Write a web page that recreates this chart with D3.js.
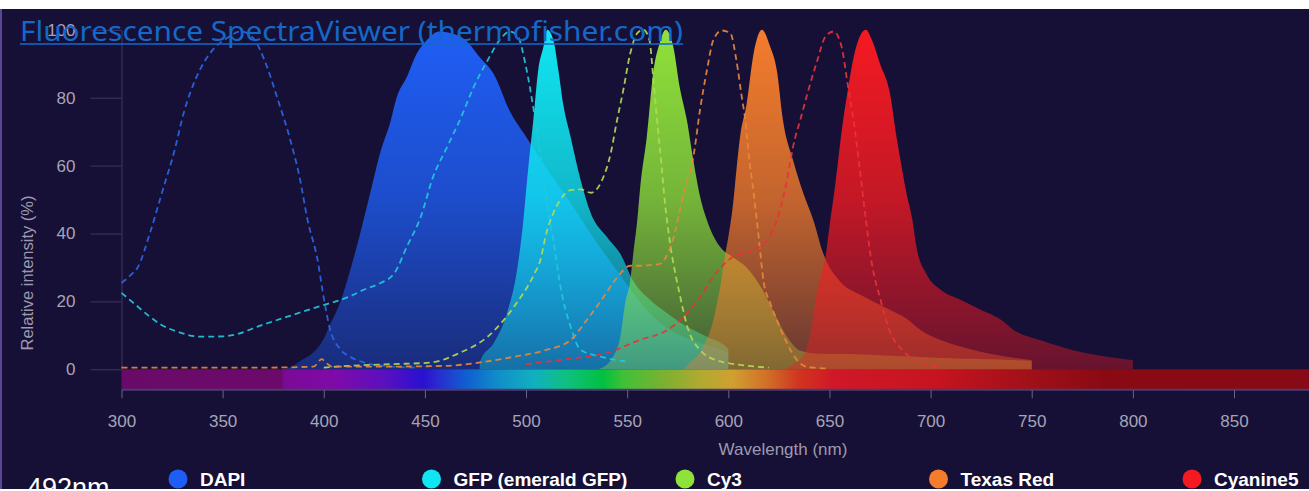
<!DOCTYPE html>
<html>
<head>
<meta charset="utf-8">
<script src="https://cdn.jsdelivr.net/npm/d3@7"></script>
<style>
body { margin: 0; background: #ffffff; overflow: hidden; }
text { font-family: "Liberation Sans", Arial, sans-serif; }
</style>
</head>
<body>
<script>
// ---- data ----
var dyes = ["DAPI", "GFP (emerald GFP)", "Cy3", "Texas Red", "Cyanine5"];
var xTicks = [300, 350, 400, 450, 500, 550, 600, 650, 700, 750, 800, 850];
var yTicks = [0, 20, 40, 60, 80, 100];
var selectedLine = "492nm";

// [wavelength nm, relative intensity %]
var dapiEx = [[300,25.4],[305,28],[308,30],[314,40],[320,52],[326,64],[331,76],[337,86],[345,94],[352,97.5],[359,99.5],[365,97.6],[372,89],[377,80],[383,68.5],[388,56.7],[392,44],[397,32],[400,21],[403,12],[408,6],[413,3.7],[420,2],[430,1],[445,0.5]];
var dapiEm = [[381,0],[386,1.5],[390,3],[395,5],[400,9],[403,13],[408,19.5],[413,29],[418,40],[423,52],[428,64],[433,73],[436,80],[441,86],[446,93],[451,97],[457,99.5],[463,99],[470,97],[477,92],[484,87],[492,76],[500,68.5],[507,62],[515,55],[523,48],[533,39],[545,29],[553,22.5],[561,16.6],[570,12],[580,9],[590,7],[600,5]];
var gfpEx = [[300,22.5],[307,19],[314,15.5],[320,13],[328,11],[339,9.6],[350,9.7],[358,10.5],[367,12.5],[382,15.5],[397,18.4],[413,21.5],[420,23.5],[428,25.4],[435,28.4],[441,36],[448,45],[454,56.6],[461,65.5],[468,74.4],[474,83],[481,91],[487,97],[492,99.5],[496,98],[500,89],[504,75.5],[507,63.6],[510,50],[513.5,38],[517,24.4],[522,12.6],[527,5.7],[537,3.7],[551,2.2]];
var gfpEm = [[477,0],[477.5,2.7],[484,7.7],[490.6,16.6],[495.5,29],[498.7,44],[501,58.7],[503.6,73.4],[506,88],[508.6,95],[510.5,100],[513.5,97],[516,88],[518.4,78],[522,68.5],[527,55.7],[532,46],[540,39],[546.6,34],[553,26],[561.4,20.4],[569.6,16.6],[579.5,12.6],[589.4,9.6],[599,6.6],[600,6]];
var cy3Ex = [[400,0.5],[412,1],[433,1.5],[453,2],[467,4.8],[481,9.6],[494,18.4],[504,28],[507,32],[510,40],[513.5,46],[517,50],[522,52.8],[527,53],[532,52],[537,55],[542,64],[545,73.4],[548,82],[551.5,93],[555,99],[558,100],[561,97],[563,85],[565,72],[567,60],[568.5,50],[571,38],[576,22],[580,12],[586,5.7],[594,2.7],[606,1.3],[620,0.5]];
var cy3Em = [[536,0],[543,3.7],[546.6,9.6],[549,19.5],[551.5,26],[553,34],[555,44],[556.5,54],[559.7,68.5],[563,88],[566,96],[569,100],[572.8,95],[576,83],[579.5,73.4],[582.7,61.6],[586,51],[589.4,44],[596,36],[602.4,33],[609,30],[616,24.3],[622,17.5],[629,9.6],[635.5,5.5],[645,4.6],[660,4.5],[680,4],[700,3.5],[725,3],[750,2.5]];
var txrEx = [[300,0.5],[330,0.5],[370,0.5],[395,0.8],[399,3],[401,2],[404,0.8],[430,0.8],[460,1],[477,2],[494,3.7],[510,5.7],[522,8.6],[530,14.5],[538,21],[545,27],[551.5,30.5],[556,30.5],[561,30.7],[566,31],[568,32],[572,37],[578,52],[583,63.6],[586,76.4],[589.4,88],[592.6,97],[596.8,99.8],[601,99],[604,91],[606.7,80],[608.4,73.4],[610,63.6],[612.5,52],[615,39],[617.4,26],[620.7,19.5],[624,14.5],[629,7.7],[634,2.7],[639,0.7],[650,0.2]];
var txrEm = [[578,0],[581,1.9],[587.6,6.6],[592.6,14.5],[596,24.3],[598.5,34],[600,39],[602.4,49],[604,58.7],[605.8,68.5],[609,78],[612.5,93],[616.6,100],[620.7,95],[624,88],[627,73.4],[632,61.6],[637,52],[642,44],[647,34],[655,26],[665,22],[671.6,20],[680,17.5],[688,15],[695,11.6],[705,8.6],[721,5.7],[737.7,3.7],[750,2.7]];
var cy5Ex = [[500,1.5],[520,3],[540,4.8],[556,8.6],[570,11.6],[578,15.5],[586,21.4],[594,28.4],[602,33],[612,35],[619,38],[624,44],[629,55.7],[632,65.5],[636,74.4],[639,81],[644,91],[648,98],[652,99.5],[656,95],[659,84],[662,73],[665,59],[668,44],[671,31],[675,21],[680,11],[686,5.7],[695,1.9],[705,0.5]];
var cy5Em = [[628,0],[632,1.5],[636,3],[640,9],[645,26],[648,33],[650,42],[653,55],[656,70],[659,82],[662,92],[665,98],[668,100],[671,97],[675,90],[680,81],[683,69],[685,62],[688,52],[691,44],[693,36],[698,28],[705,23.4],[715,20.4],[725,17.5],[735,14.5],[741,11.6],[754,8.6],[770,5.7],[787,3.7],[800,2.7]];

var excitation = [dapiEx, gfpEx, cy3Ex, txrEx, cy5Ex];
var emission = [dapiEm, gfpEm, cy3Em, txrEm, cy5Em];

// ---- styles ----
var dyeColors = ["#1f5ef5", "#10e6f2", "#8fe23a", "#f47c2c", "#f41a22"];
var exColors = ["#2c64e6", "#22c8da", "#b2da52", "#e8873c", "#e8323a"];
var spectrumStops = [[300,"#6a0a68"],[379,"#6c0a6c"],[380.5,"#7a0a96"],[405,"#800aa8"],[430,"#5a10c0"],[449,"#2a10d0"],[456,"#2a2ad0"],[471,"#1060d0"],[487,"#1090c8"],[504,"#10b0c0"],[520,"#10c080"],[538,"#00c040"],[548,"#40c038"],[570,"#80b030"],[586,"#b0aa30"],[602,"#d0a030"],[619,"#d07028"],[635,"#d03420"],[652,"#d01828"],[700,"#c81420"],[750,"#a01018"],[785,"#8a0a14"],[890,"#880a16"]];

var width = 1309, height = 491,
    bgTop = 9, bgBottom = 489;

var svg = d3.select("body").append("svg")
    .attr("width", width)
    .attr("height", height);

var x = d3.scaleLinear().domain([300, 850]).range([121.5, 1234]);
var y = d3.scaleLinear().domain([0, 100]).range([369.3, 29.8]);

// dark panel
svg.append("rect")
    .attr("x", 0).attr("y", bgTop)
    .attr("width", width).attr("height", bgBottom - bgTop)
    .attr("fill", "#161036");
svg.append("rect")
    .attr("x", 0).attr("y", bgTop)
    .attr("width", 2).attr("height", bgBottom - bgTop)
    .attr("fill", "#5a4694");

var defs = svg.append("defs");

// rainbow strip under the plot
var spec = defs.append("linearGradient")
    .attr("id", "spectrum")
    .attr("gradientUnits", "userSpaceOnUse")
    .attr("x1", x(300)).attr("x2", width)
    .attr("y1", 0).attr("y2", 0);
spec.selectAll("stop")
    .data(spectrumStops)
    .enter().append("stop")
    .attr("offset", function(d) { return (x(d[0]) - x(300)) / (width - x(300)); })
    .attr("stop-color", function(d) { return d[1]; });

svg.append("rect")
    .attr("x", x(300)).attr("y", y(0))
    .attr("width", width - x(300)).attr("height", 20)
    .attr("fill", "url(#spectrum)");
svg.append("line")
    .attr("x1", x(300)).attr("x2", width)
    .attr("y1", y(0) + 20.5).attr("y2", y(0) + 20.5)
    .attr("stroke", "#4c3c72").attr("stroke-width", 2);

// y axis
var yAxis = svg.append("g")
    .attr("transform", "translate(" + x(300) + ",0)")
    .call(d3.axisLeft(y).tickValues(yTicks).tickSize(31).tickSizeOuter(0).tickPadding(15));
yAxis.select(".domain").attr("stroke", "#3e3666");
yAxis.selectAll(".tick line").attr("stroke", "#3e3666");
yAxis.selectAll(".tick text")
    .attr("fill", "#a7a4b6")
    .style("font-size", "17px")
    .style("font-family", "Liberation Sans, Arial, sans-serif");

// x axis
var xAxis = svg.append("g")
    .attr("transform", "translate(0," + (y(0) + 21) + ")")
    .call(d3.axisBottom(x).tickValues(xTicks).tickSize(8).tickPadding(17));
xAxis.select(".domain").remove();
xAxis.selectAll(".tick line").attr("stroke", "#6a6488");
xAxis.selectAll(".tick text")
    .attr("fill", "#a7a4b6")
    .style("font-size", "17px")
    .style("font-family", "Liberation Sans, Arial, sans-serif");

svg.append("text")
    .attr("x", 783).attr("y", 455)
    .attr("text-anchor", "middle")
    .attr("fill", "#9d9aae")
    .style("font-size", "17px")
    .text("Wavelength (nm)");

svg.append("text")
    .attr("transform", "translate(33,273) rotate(-90)")
    .attr("text-anchor", "middle")
    .attr("fill", "#9d9aae")
    .style("font-size", "16.5px")
    .text("Relative intensity (%)");

// emission areas, bright at the top fading into the background
emission.forEach(function(d, i) {
    var g = defs.append("linearGradient")
        .attr("id", "em" + i)
        .attr("gradientUnits", "userSpaceOnUse")
        .attr("x1", 0).attr("x2", 0)
        .attr("y1", y(100)).attr("y2", y(0));
    g.append("stop").attr("offset", 0).attr("stop-color", dyeColors[i]).attr("stop-opacity", 1);
    g.append("stop").attr("offset", 0.5).attr("stop-color", dyeColors[i]).attr("stop-opacity", 0.78);
    g.append("stop").attr("offset", 1).attr("stop-color", dyeColors[i]).attr("stop-opacity", 0.36);
});

var area = d3.area()
    .x(function(d) { return x(d[0]); })
    .y0(y(0))
    .y1(function(d) { return y(d[1]); })
    .curve(d3.curveMonotoneX);

svg.append("g").selectAll("path")
    .data(emission)
    .enter().append("path")
    .attr("d", area)
    .attr("fill", function(d, i) { return "url(#em" + i + ")"; });

// excitation spectra as dashed lines
var line = d3.line()
    .x(function(d) { return x(d[0]); })
    .y(function(d) { return y(d[1]); })
    .curve(d3.curveMonotoneX);

svg.append("g").selectAll("path")
    .data(excitation)
    .enter().append("path")
    .attr("d", line)
    .attr("fill", "none")
    .attr("stroke", function(d, i) { return exColors[i]; })
    .attr("stroke-width", 1.8)
    .attr("stroke-dasharray", "6,4")
    .attr("opacity", 0.92);

// legend
var legend = svg.append("g").selectAll("g")
    .data(dyes)
    .enter().append("g")
    .attr("transform", function(d, i) { return "translate(" + (178 + i * 253.5) + ",479)"; });
legend.append("circle")
    .attr("r", 9.5)
    .attr("fill", function(d, i) { return dyeColors[i]; });
legend.append("text")
    .attr("x", 22).attr("y", 6.5)
    .attr("fill", "#ffffff")
    .style("font-size", "19px")
    .style("font-weight", "bold")
    .text(function(d) { return d; });

svg.append("text")
    .attr("x", 27).attr("y", 497)
    .attr("fill", "#ffffff")
    .style("font-size", "27px")
    .text(selectedLine);

// white strip under the panel clips the label
svg.append("rect")
    .attr("x", 0).attr("y", bgBottom)
    .attr("width", width).attr("height", height - bgBottom)
    .attr("fill", "#ffffff");

// link title overlaid on the chart
svg.append("text")
    .attr("x", 20).attr("y", 41)
    .attr("fill", "#1468c8")
    .attr("textLength", 663)
    .attr("lengthAdjust", "spacingAndGlyphs")
    .style("font-family", "Noto Sans, sans-serif")
    .style("font-size", "28px")
    .text("Fluorescence SpectraViewer (thermofisher.com)");
svg.append("line")
    .attr("x1", 20).attr("x2", 683)
    .attr("y1", 44).attr("y2", 44)
    .attr("stroke", "#1468c8")
    .attr("stroke-width", 1.3);
</script>
</body>
</html>
